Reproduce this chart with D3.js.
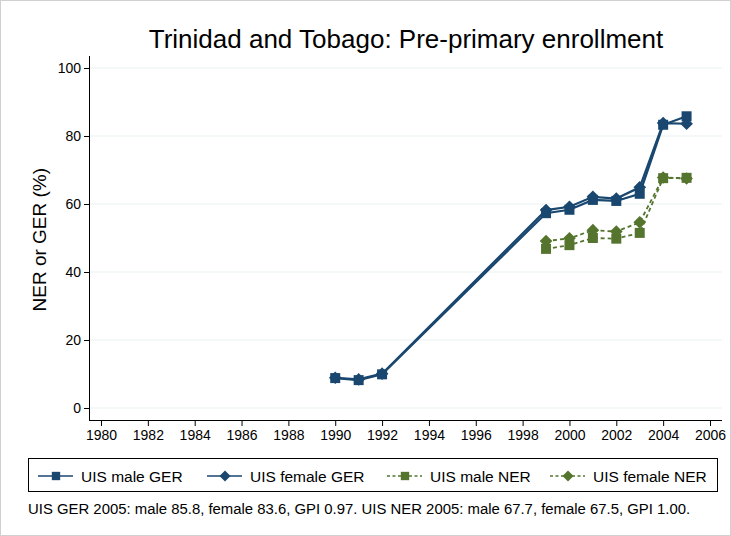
<!DOCTYPE html>
<html>
<head>
<meta charset="utf-8">
<script src="https://cdn.jsdelivr.net/npm/d3@7"></script>
<style>
  body { margin: 0; background: #fff; }
  text { font-family: "Liberation Sans", Arial, sans-serif; }
</style>
</head>
<body>
<div id="chart"></div>
<script>
// pre-primary enrollment, Trinidad and Tobago

var years = [1990, 1991, 1992, 1999, 2000, 2001, 2002, 2003, 2004, 2005];
var nerYears = [1999, 2000, 2001, 2002, 2003, 2004, 2005];

var maleGER   = [8.8, 8.2, 9.9, 57.3, 58.3, 61.2, 60.9, 63.0, 83.3, 85.8];
var femaleGER = [8.9, 8.4, 10.1, 58.2, 59.2, 62.1, 61.6, 64.9, 83.8, 83.6];
var maleNER   = [46.8, 47.9, 50.0, 49.8, 51.5, 67.6, 67.7];
var femaleNER = [49.1, 49.9, 52.3, 51.9, 54.6, 67.8, 67.5];

var xTicks = d3.range(1980, 2007, 2);
var yTicks = [0, 20, 40, 60, 80, 100];

var blue = "#1a476f", green = "#55752f";

var series = [
    { name: "UIS male GER",   x: years,    y: maleGER,   color: blue,  dash: null,  shape: "square" },
    { name: "UIS female GER", x: years,    y: femaleGER, color: blue,  dash: null,  shape: "diamond" },
    { name: "UIS male NER",   x: nerYears, y: maleNER,   color: green, dash: "4,3", shape: "square" },
    { name: "UIS female NER", x: nerYears, y: femaleNER, color: green, dash: "4,3", shape: "diamond" }
];

var width = 731, height = 536;
var svg = d3.select("#chart").append("svg")
    .attr("width", width)
    .attr("height", height);

svg.append("rect")
    .attr("x", 0.5).attr("y", 0.5)
    .attr("width", width - 1).attr("height", height - 1)
    .attr("fill", "#fff").attr("stroke", "#d0d0d0");

var plot = { left: 89, right: 722, top: 56, bottom: 420 };

var x = d3.scaleLinear().domain([1980, 2006]).range([101, 710]);
var y = d3.scaleLinear().domain([0, 100]).range([408, 68]);

// title
svg.append("text")
    .attr("x", 406).attr("y", 48)
    .attr("text-anchor", "middle")
    .attr("font-size", 26)
    .text("Trinidad and Tobago: Pre-primary enrollment");

// gridlines
svg.append("g").selectAll("line")
    .data(yTicks).enter().append("line")
    .attr("x1", plot.left).attr("x2", plot.right)
    .attr("y1", function(d) { return y(d); })
    .attr("y2", function(d) { return y(d); })
    .attr("stroke", "#eaf2f3").attr("stroke-width", 1.2);

// y axis
var yAxis = svg.append("g")
    .attr("transform", "translate(" + plot.left + ",0)")
    .call(d3.axisLeft(y).tickValues(yTicks).tickSize(5).tickPadding(3));
yAxis.select(".domain").attr("d", "M0.5," + plot.top + "V" + plot.bottom + ".5");

// x axis
var xAxis = svg.append("g")
    .attr("transform", "translate(0," + plot.bottom + ")")
    .call(d3.axisBottom(x).tickValues(xTicks).tickFormat(d3.format("d")).tickSize(6).tickPadding(4));
xAxis.select(".domain").attr("d", "M" + plot.left + ",0.5H" + plot.right);

svg.selectAll(".tick text")
    .attr("font-size", 14)
    .attr("font-family", "Liberation Sans, Arial, sans-serif")
    .attr("fill", "#000");
svg.selectAll(".tick line").attr("stroke", "#000");
svg.selectAll(".domain").attr("stroke", "#000");

// y label
svg.append("text")
    .attr("transform", "translate(46," + y(49.5) + ") rotate(-90)")
    .attr("text-anchor", "middle")
    .attr("font-size", 19)
    .text("NER or GER (%)");

var symSquare = d3.symbol().type(d3.symbolSquare).size(100);
var symDiamond = d3.symbol().type(d3.symbolSquare).size(80);

function markerTransform(s, px, py) {
    return "translate(" + px + "," + py + ")" + (s.shape === "diamond" ? " rotate(45)" : "");
}

var line = d3.line()
    .x(function(d) { return x(d[0]); })
    .y(function(d) { return y(d[1]); });

series.forEach(function(s) {
    var pts = s.x.map(function(v, i) { return [v, s.y[i]]; });
    svg.append("path")
        .datum(pts)
        .attr("d", line)
        .attr("fill", "none")
        .attr("stroke", s.color)
        .attr("stroke-width", s.dash ? 1.8 : 2.2)
        .attr("stroke-dasharray", s.dash);
    svg.append("g").selectAll("path")
        .data(pts).enter().append("path")
        .attr("d", s.shape === "square" ? symSquare : symDiamond)
        .attr("transform", function(d) { return markerTransform(s, x(d[0]), y(d[1])); })
        .attr("fill", s.color);
});

// legend
var legend = svg.append("g");
legend.append("rect")
    .attr("x", 28.5).attr("y", 458.5)
    .attr("width", 689).attr("height", 33)
    .attr("fill", "#fff").attr("stroke", "#000");

var legX = [38, 207, 387, 550];
var legSquare = d3.symbol().type(d3.symbolSquare).size(70);
var legDiamond = d3.symbol().type(d3.symbolSquare).size(60);
series.forEach(function(s, i) {
    var g = legend.append("g").attr("transform", "translate(" + legX[i] + ",476)");
    g.append("line")
        .attr("x1", 0).attr("x2", 35)
        .attr("stroke", s.color).attr("stroke-width", 1.6)
        .attr("stroke-dasharray", s.dash ? "3,2.5" : null);
    g.append("path")
        .attr("d", s.shape === "square" ? legSquare : legDiamond)
        .attr("transform", markerTransform(s, 18, 0))
        .attr("fill", s.color);
    g.append("text")
        .attr("x", 43).attr("y", 5.5)
        .attr("font-size", 15.5)
        .text(s.name);
});

// note
svg.append("text")
    .attr("x", 28).attr("y", 514)
    .attr("font-size", 14.9)
    .text("UIS GER 2005: male 85.8, female 83.6, GPI 0.97. UIS NER 2005: male 67.7, female 67.5, GPI 1.00.");
</script>
</body>
</html>
